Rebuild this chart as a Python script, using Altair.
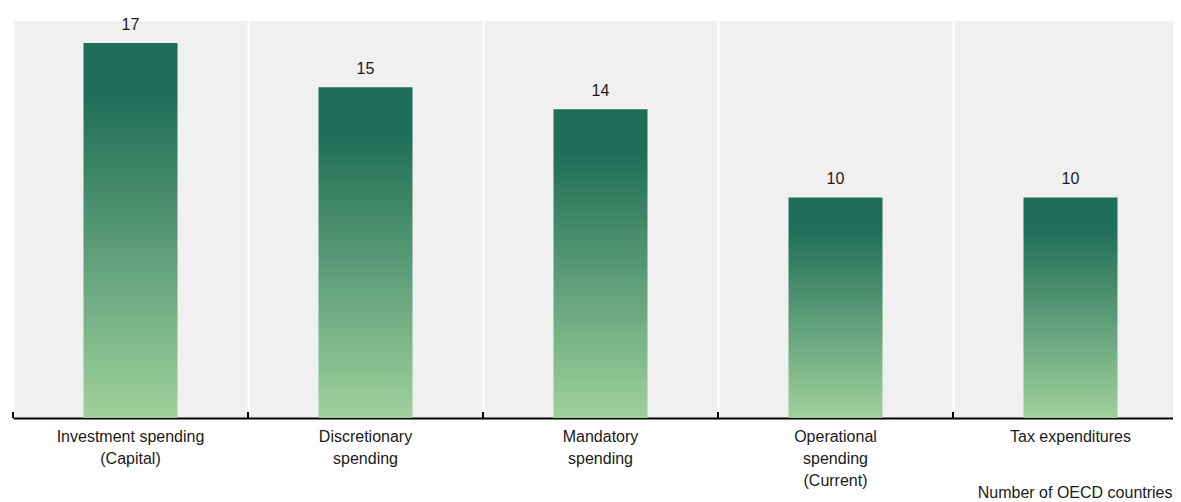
import altair as alt
import pandas as pd

categories = [
    "Investment spending|(Capital)",
    "Discretionary|spending",
    "Mandatory|spending",
    "Operational|spending|(Current)",
    "Tax expenditures",
]
counts = [17, 15, 14, 10, 10]

df = pd.DataFrame({"cat": categories, "n": counts})

FONT = "Liberation Sans, Arial, sans-serif"
order = categories

x_scale = alt.Scale(domain=order, range=[0, 1175], paddingInner=0, paddingOuter=0)
y_scale = alt.Scale(domain=[0, 18], nice=False)

grad = alt.Gradient(
    gradient="linear",
    stops=[
        alt.GradientStop(color="#1f6e58", offset=0),
        alt.GradientStop(color="#1f6e58", offset=0.14),
        alt.GradientStop(color="#a0d19c", offset=1),
    ],
    x1=0, x2=0, y1=0, y2=1,
)

base = alt.Chart(df)

bars = base.mark_bar(color=grad, width={"band": 0.4}).encode(
    x=alt.X(
        "cat:N",
        scale=x_scale,
        sort=order,
        axis=alt.Axis(
            title="Number of OECD countries",
            labelExpr="split(datum.label, '|')",
            labelAngle=0,
            labelFont=FONT,
            labelFontSize=16,
            labelColor="#1a1a1a",
            labelLineHeight=22,
            labelBaseline="top",
            labelPadding=10,
            labelLimit=300,
            ticks=False,
            grid=True,
            gridColor="#ffffff",
            gridWidth=2,
            bandPosition=0,
            domainColor="#000000",
            domainWidth=2,
            titleFont=FONT,
            titleFontSize=16,
            titleFontWeight="normal",
            titleColor="#1a1a1a",
            titleX=1159,
            titleY=79,
            titleAlign="right",
            titleBaseline="alphabetic",
        ),
    ),
    y=alt.Y("n:Q", scale=y_scale, axis=None),
)

labels = base.mark_text(
    font=FONT, fontSize=16, color="#1a1a1a", baseline="alphabetic", dy=-13
).encode(
    x=alt.X("cat:N", scale=x_scale, sort=order),
    y=alt.Y("n:Q", scale=y_scale),
    text=alt.Text("n:Q"),
)

ticks = base.mark_rule(color="#000000", strokeWidth=2).encode(
    x=alt.X("cat:N", scale=x_scale, sort=order, bandPosition=0),
    y=alt.value(397),
    y2=alt.value(391),
)

chart = (
    alt.layer(bars, labels, ticks)
    .properties(
        width=1160,
        height=397,
        autosize=alt.AutoSizeParams(type="none"),
        padding={"left": 5, "top": 13, "right": 0, "bottom": 84},
        background="#ffffff",
    )
    .configure_view(fill="#f0f0f0", stroke=None)
)

chart.save("out.html", embed_options={"renderer": "svg", "actions": False})
